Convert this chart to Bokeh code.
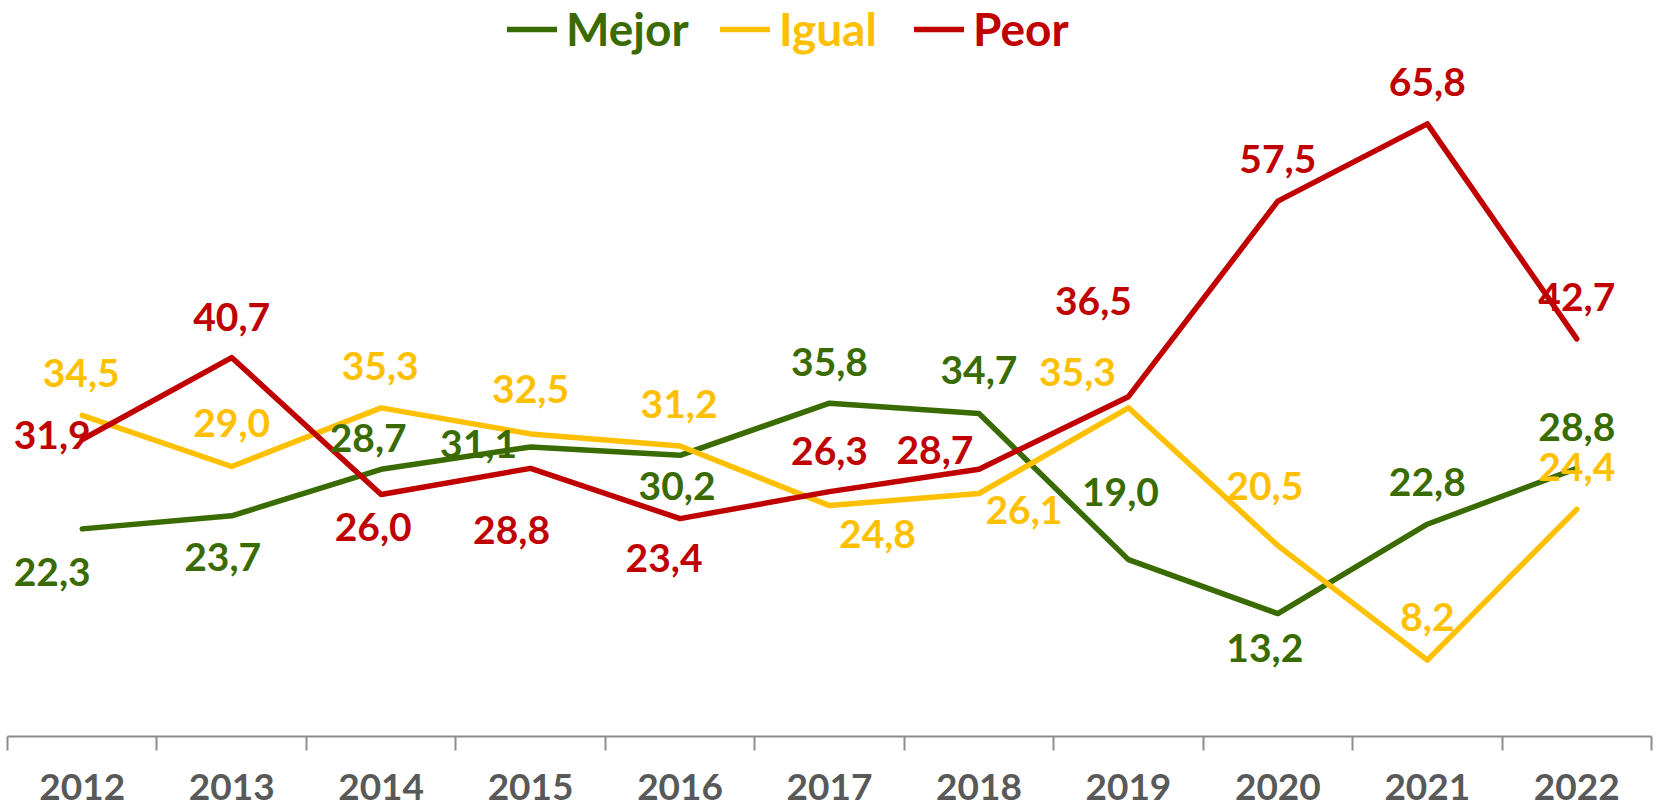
from bokeh.plotting import figure
from bokeh.models import (ColumnDataSource, Range1d, FixedTicker, Legend, LegendItem)
from bokeh.core.properties import value
from bokeh.embed import file_html
from bokeh.resources import INLINE

# ---- data ----
years = ["2012", "2013", "2014", "2015", "2016", "2017", "2018", "2019", "2020", "2021", "2022"]
mejor = [22.3, 23.7, 28.7, 31.1, 30.2, 35.8, 34.7, 19.0, 13.2, 22.8, 28.8]
igual = [34.5, 29.0, 35.3, 32.5, 31.2, 24.8, 26.1, 35.3, 20.5, 8.2, 24.4]
peor = [31.9, 40.7, 26.0, 28.8, 23.4, 26.3, 28.7, 36.5, 57.5, 65.8, 42.7]
series_names = ["Mejor", "Igual", "Peor"]

# ---- style / layout ----
colors = {"Mejor": "#3A6B00", "Igual": "#FFC000", "Peor": "#C00000"}
# label offsets in screen pixels (dx, dy; dy positive = down)
offsets = {
    "Mejor": [(-30, 43), (-9, 41), (-13, -31), (-52, -3), (-3, 31), (0, -41), (0, -43),
              (-8, -68), (-13, 34), (0, -42), (0, -41)],
    "Igual": [(-1, -42), (0, -43), (-1, -42), (0, -45), (-1, -42), (48, 28), (45, 17),
              (-51, -36), (-13, -60), (0, -43), (0, -42)],
    "Peor": [(-30, -4), (0, -41), (-8, 33), (-19, 62), (-16, 39), (0, -41), (-44, -19),
             (-35, -96), (0, -42), (0, -42), (0, -42)],
}
FONT = "Lato"

W, H = 1657, 809
p = figure(width=W, height=H, output_backend="svg", toolbar_location=None,
           x_range=Range1d(-0.5, len(years) - 0.5), y_range=Range1d(0, 79.05),
           y_axis_location=None, min_border_left=7, min_border_right=6,
           min_border_top=0, min_border_bottom=73)
p.outline_line_color = None
p.xgrid.visible = False
p.ygrid.visible = False
p.background_fill_color = "white"
p.border_fill_color = "white"

xs = list(range(len(years)))
ax = p.xaxis[0]
ax.ticker = FixedTicker(ticks=xs, minor_ticks=[i - 0.5 for i in range(len(years) + 1)])
ax.major_label_overrides = {i: y for i, y in enumerate(years)}
ax.major_tick_out = 0
ax.major_tick_in = 0
ax.minor_tick_out = 14
ax.minor_tick_in = 0
ax.minor_tick_line_color = "#8C8C8C"
ax.minor_tick_line_width = 2
ax.axis_line_color = "#8C8C8C"
ax.axis_line_width = 2
ax.major_label_standoff = 23
ax.major_label_text_font = FONT
ax.major_label_text_font_style = "bold"
ax.major_label_text_font_size = "37px"
ax.major_label_text_color = "#595959"

data = {"Mejor": mejor, "Igual": igual, "Peor": peor}
renderers = {}
for name in series_names:
    r = p.line(xs, data[name], line_color=colors[name], line_width=5.5,
               line_cap="round", line_join="round")
    renderers[name] = r

for name in series_names:
    vals = data[name]
    src = ColumnDataSource(dict(
        x=xs, y=vals,
        t=[f"{v:.1f}".replace(".", ",") for v in vals],
        dx=[o[0] for o in offsets[name]],
        dy=[o[1] for o in offsets[name]],
    ))
    p.text(x="x", y="y", text="t", x_offset="dx", y_offset="dy", source=src,
           text_font=value(FONT), text_font_style="bold", text_font_size="39px",
           text_color=colors[name], text_align="center", text_baseline="middle")

legend_x = {"Mejor": 500, "Igual": 713, "Peor": 907}
for name in series_names:
    lg = Legend(items=[LegendItem(label=name, renderers=[renderers[name]])],
                location=(legend_x[name], 680), orientation="horizontal",
                glyph_width=50, glyph_height=40, label_standoff=9, padding=0, margin=0,
                spacing=0, border_line_alpha=0, background_fill_alpha=0,
                label_text_font=FONT, label_text_font_style="bold",
                label_text_font_size="46px", label_text_color=colors[name],
                label_height=40)
    p.add_layout(lg)

open("out.html", "w").write(file_html(p, INLINE))
